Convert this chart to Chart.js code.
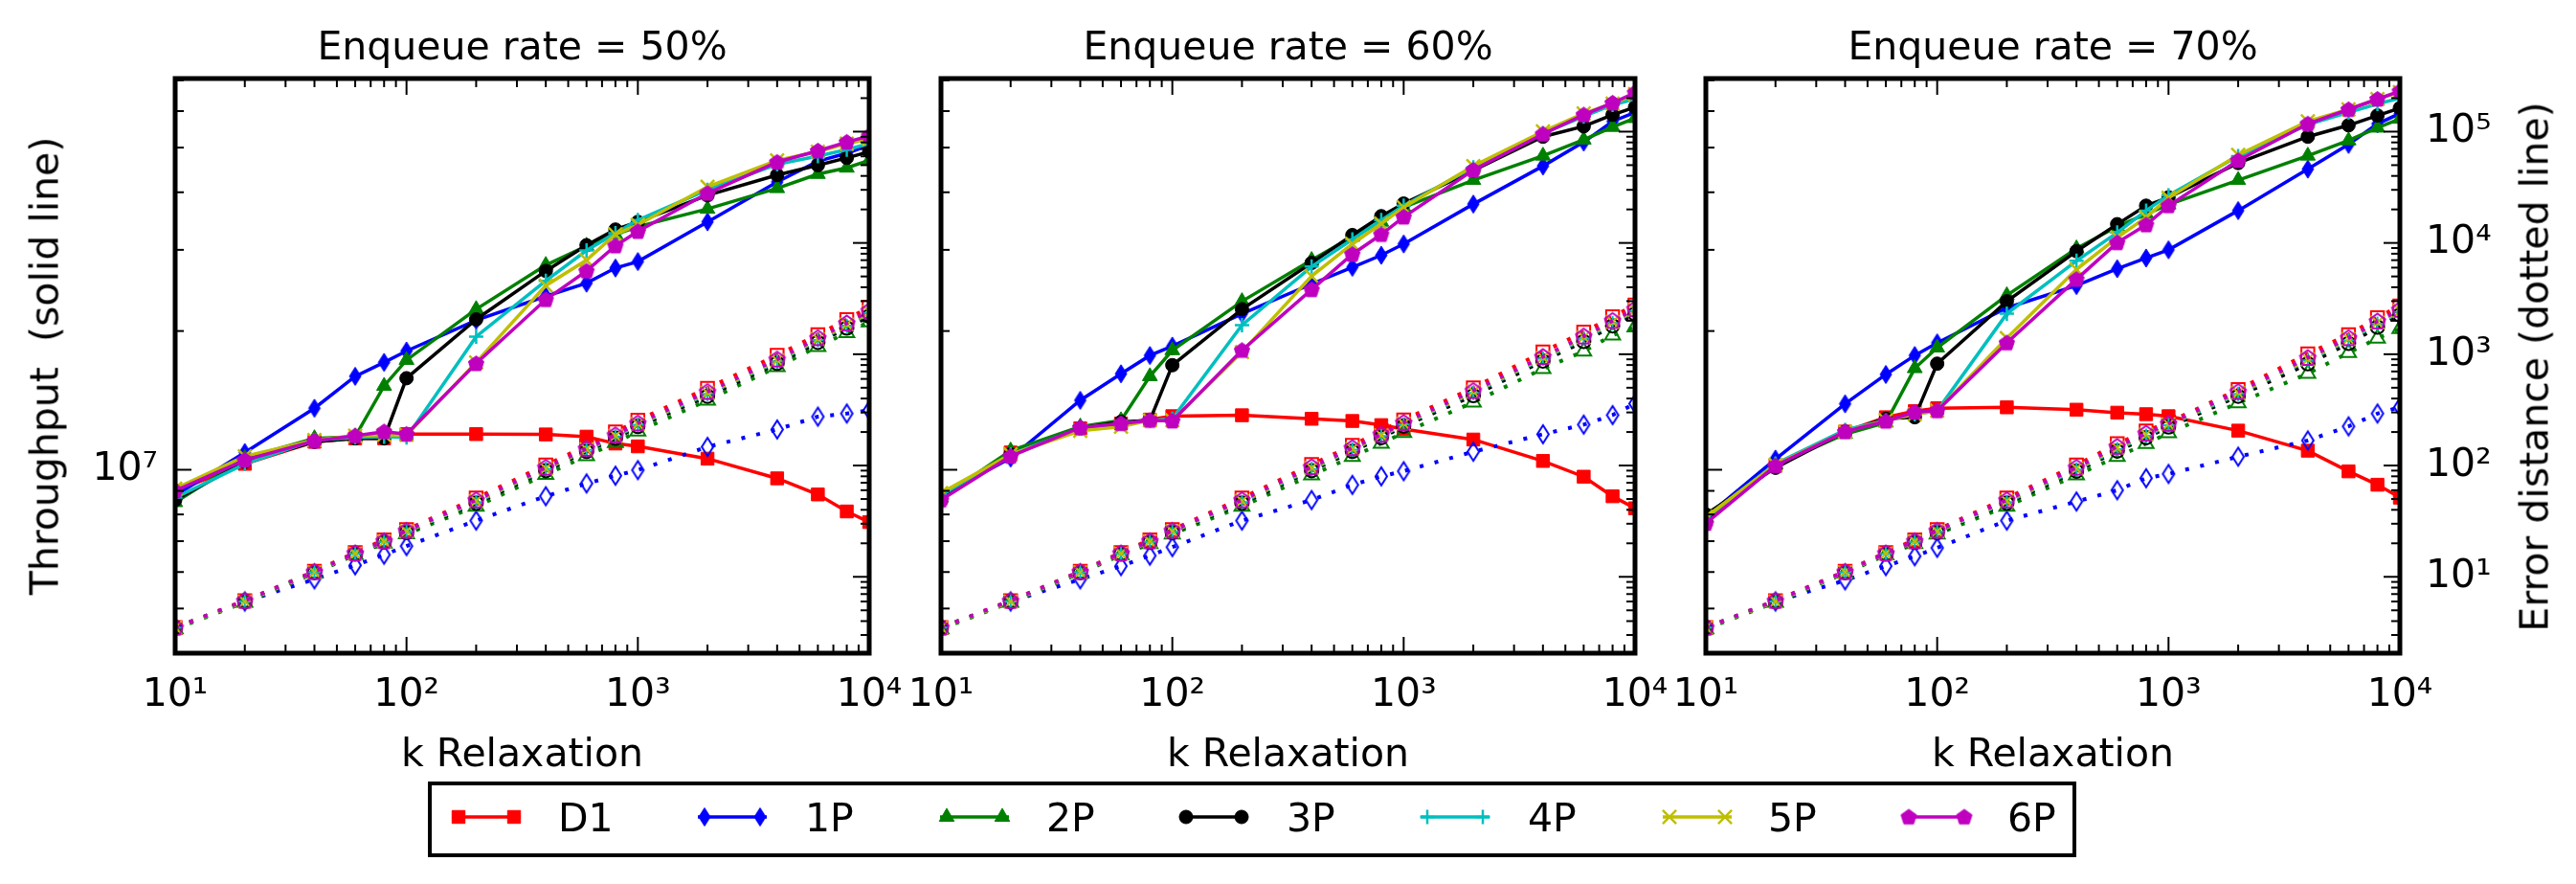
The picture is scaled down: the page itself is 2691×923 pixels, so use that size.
<!DOCTYPE html>
<html><head><meta charset="utf-8">
<script src="https://cdn.jsdelivr.net/npm/chart.js@4/dist/chart.umd.min.js"></script>
<style>
html,body{margin:0;padding:0;background:#fff;}
#wrap{position:relative;width:2691px;height:923px;overflow:hidden;background:#fff;font-family:"DejaVu Sans",sans-serif;color:#000;}
canvas.panel{position:absolute;left:0;top:0;}
.txt{position:absolute;font-size:41px;line-height:41px;white-space:pre;transform:translate(-50%,-50%);}
.rot{transform:translate(-50%,-50%) rotate(-90deg);}
.ltxt{position:absolute;font-size:41px;line-height:41px;white-space:pre;transform:translate(0,-50%);}
#legend{position:absolute;left:447px;top:816px;width:1722px;height:79px;box-sizing:border-box;border:4px solid #000;}
canvas.lg{position:absolute;}
</style></head>
<body><div id="wrap"><div id="legend"></div></div>
<script>
// ---------------- data ----------------
const kValues = [10,20,40,60,80,100,200,400,600,800,1000,2000,4000,6000,8000,10000];
const seriesNames = ['D1','1P','2P','3P','4P','5P','6P'];
const seriesColors = ['#ff0000','#0000ff','#008000','#000000','#00bfbf','#bfbf00','#bf00bf'];
const panelTitles = ['Enqueue rate = 50%','Enqueue rate = 60%','Enqueue rate = 70%'];
const xTickValues = [10,100,1000,10000];
const throughputTickValues = [1e7];
const errorTickValues = [10,100,1000,10000,100000];

// throughput, in millions (solid lines, left axis)
const tp50_D1 = [9.0,10.3,11.5,11.7,11.7,11.95,11.95,11.93,11.8,11.4,11.24,10.57,9.58,8.84,8.12,7.7];
const tp50_1P = [8.8,10.9,13.6,15.95,17.1,18.1,21.1,23.8,25.4,27.4,28.3,34.5,42.1,46.7,48.6,50.6];
const tp50_2P = [8.5,10.6,11.7,11.8,15.2,17.3,22.3,27.8,30.6,32.4,33.7,36.8,40.8,43.8,45.2,46.9];
const tp50_3P = [8.6,10.4,11.5,11.7,11.7,15.8,21.2,27.0,30.7,33.2,34.5,39.4,43.6,45.8,47.5,49.0];
const tp50_4P = [8.7,10.3,11.6,11.75,11.8,11.75,19.45,25.7,29.9,32.6,34.8,40.5,46.0,47.9,49.5,51.0];
const tp50_5P = [9.1,10.7,11.6,11.85,11.9,11.9,17.1,25.1,28.5,32.4,34.0,41.1,46.9,49.0,51.0,52.2];
const tp50_6P = [9.0,10.5,11.55,11.85,12.1,11.95,17.0,23.4,27.0,30.6,32.9,39.8,46.5,49.2,51.4,53.0];

const tp60_D1 = [8.7,10.9,12.3,12.6,12.85,13.07,13.13,12.9,12.76,12.5,12.26,11.63,10.45,9.66,8.76,8.25];
const tp60_1P = [8.8,10.6,14.15,16.15,17.7,18.55,21.8,25.3,27.5,29.2,30.9,37.7,45.6,51.4,57.0,59.6];
const tp60_2P = [8.7,11.0,12.4,12.8,15.95,18.16,23.2,28.5,32.0,34.5,37.1,42.5,48.0,52.0,55.4,57.9];
const tp60_3P = [8.7,10.8,12.3,12.7,12.8,16.86,22.3,28.1,32.3,35.5,37.8,44.6,52.8,55.6,58.9,61.2];
const tp60_4P = [8.8,10.8,12.3,12.6,12.8,12.9,20.6,27.6,31.6,34.8,37.4,45.3,53.7,58.4,61.9,63.7];
const tp60_5P = [8.9,10.8,12.15,12.4,12.8,12.8,18.0,26.3,30.9,34.2,37.1,45.6,54.2,59.3,62.3,65.3];
const tp60_6P = [8.6,10.7,12.35,12.6,12.8,12.76,18.16,24.6,29.35,32.4,35.35,44.7,53.5,58.9,62.5,65.8];

const tp70_D1 = [7.8,10.2,12.1,13.0,13.4,13.6,13.66,13.5,13.3,13.2,13.07,12.16,11.0,9.92,9.28,8.7];
const tp70_1P = [7.9,10.55,13.9,16.1,17.7,18.85,22.45,25.1,27.3,28.8,30.0,36.5,44.9,50.8,56.3,59.3];
const tp70_2P = [7.9,10.25,11.95,12.65,16.6,18.4,23.9,30.2,33.7,35.9,37.6,42.5,48.0,51.8,55.2,57.7];
const tp70_3P = [8.0,10.1,12.1,12.9,13.0,16.99,23.2,29.8,34.1,37.4,39.0,46.3,52.8,55.9,58.7,60.9];
const tp70_4P = [7.85,10.3,12.2,12.8,13.2,13.43,21.8,28.4,32.7,36.5,39.4,47.9,56.1,59.6,62.2,64.0];
const tp70_5P = [7.9,10.25,12.1,12.8,13.2,13.43,19.3,27.2,31.9,35.3,38.9,48.2,57.0,60.5,63.7,66.0];
const tp70_6P = [7.65,10.2,12.1,12.75,13.34,13.43,18.85,25.9,31.1,34.0,37.4,46.9,56.3,60.5,63.7,66.3];

// error distance (dotted lines, right axis)
const err50_D1 = [3.5,6.1,11.2,16.5,21.5,26.5,51,101,150,200,255,495,980,1500,2050,2650];
const err50_1P = [3.5,6.0,9.5,12.7,15.8,18.9,32,53,69,81,91,147,211,275,293,314];
const err50_2P = [3.4,5.9,10.8,15.8,20.0,24.3,43,83,122,160,203,385,770,1170,1560,1950];
const err50_3P = [3.5,6.0,10.9,16.0,20.5,25.0,46,90,134,176,224,420,830,1280,1720,2200];
const err50_4P = [3.5,6.0,11.0,16.1,20.6,25.4,47,93,138,182,232,440,860,1340,1800,2350];
const err50_5P = [3.5,6.0,11.0,16.2,20.8,25.6,48,94,140,185,236,450,880,1370,1850,2400];
const err50_6P = [3.5,6.1,11.1,16.3,21.0,26.0,49,96,142,188,240,460,900,1400,1900,2450];

const err60_D1 = [3.5,6.1,11.2,16.5,21.5,26.5,51,102,152,205,257,498,1050,1580,2170,2770];
const err60_1P = [3.5,6.0,9.5,12.5,15.5,18.5,32,49,67,80,89,133,191,233,284,360];
const err60_2P = [3.4,5.9,10.8,15.7,19.8,24.2,43,82,120,158,197,370,740,1064,1480,1750];
const err60_3P = [3.5,6.0,10.9,16.0,20.4,25.0,46,90,134,178,226,425,870,1300,1800,2300];
const err60_4P = [3.5,6.0,11.0,16.1,20.6,25.4,47,93,139,184,234,450,910,1380,1900,2450];
const err60_5P = [3.5,6.0,11.0,16.2,20.8,25.6,48,95,141,187,238,460,930,1420,1950,2500];
const err60_6P = [3.5,6.1,11.1,16.3,21.0,26.0,49,97,144,190,243,470,950,1450,2000,2550];

const err70_D1 = [3.5,6.1,11.2,16.5,21.5,26.5,51,101,157,204,245,481,1010,1500,2130,2720];
const err70_1P = [3.5,6.0,9.3,12.5,15.3,18.2,32,47.5,60,77,84,120,168,225,293,335];
const err70_2P = [3.4,5.9,10.8,15.7,19.8,24.2,43,82,120,157,196,365,670,1030,1390,1690];
const err70_3P = [3.5,6.0,10.9,16.0,20.4,25.0,46,89,135,178,222,420,820,1250,1750,2250];
const err70_4P = [3.5,6.0,11.0,16.1,20.6,25.4,47,92,140,185,230,440,880,1330,1880,2400];
const err70_5P = [3.5,6.0,11.0,16.2,20.8,25.6,48,94,144,190,235,450,900,1370,1930,2450];
const err70_6P = [3.5,6.1,11.1,16.3,21.0,26.0,49,96,148,194,238,460,930,1400,1980,2520];

const throughputByPanel = [
  [tp50_D1,tp50_1P,tp50_2P,tp50_3P,tp50_4P,tp50_5P,tp50_6P],
  [tp60_D1,tp60_1P,tp60_2P,tp60_3P,tp60_4P,tp60_5P,tp60_6P],
  [tp70_D1,tp70_1P,tp70_2P,tp70_3P,tp70_4P,tp70_5P,tp70_6P]];
const errorByPanel = [
  [err50_D1,err50_1P,err50_2P,err50_3P,err50_4P,err50_5P,err50_6P],
  [err60_D1,err60_1P,err60_2P,err60_3P,err60_4P,err60_5P,err60_6P],
  [err70_D1,err70_1P,err70_2P,err70_3P,err70_4P,err70_5P,err70_6P]];

// ---------------- layout ----------------
const W = 2691, H = 923;
const panelLefts = [183, 983, 1782];
const panelWidth = 725, panelTop = 82, panelBottom = 682;
const FONT = '"DejaVu Sans", sans-serif';

// ---------------- markers ----------------
function makeCanvas(w,h,draw){const c=document.createElement('canvas');c.width=w;c.height=h;draw(c.getContext('2d'));return c;}
function thinDiamond(color, filled){
  const w=12,h=19,lw=2,cw=w+2*lw+2,ch=h+2*lw+2;
  return makeCanvas(cw,ch,g=>{const cx=cw/2,cy=ch/2;g.beginPath();g.moveTo(cx,cy-h/2);g.lineTo(cx+w/2,cy);g.lineTo(cx,cy+h/2);g.lineTo(cx-w/2,cy);g.closePath();
    if(filled){g.fillStyle=color;g.fill();g.lineWidth=1;}else{g.lineWidth=lw;} g.strokeStyle=color;g.stroke();});
}
function pentagon(color, filled){
  const r=8.5,lw=2,s=Math.ceil(2*r+2*lw+2);
  return makeCanvas(s,s,g=>{const c=s/2;g.beginPath();for(let i=0;i<5;i++){const a=-Math.PI/2+i*2*Math.PI/5;const px=c+r*Math.cos(a),py=c+0.5+r*Math.sin(a);i?g.lineTo(px,py):g.moveTo(px,py);}g.closePath();
    if(filled){g.fillStyle=color;g.fill();g.lineWidth=1;}else{g.lineWidth=lw;} g.strokeStyle=color;g.stroke();});
}
const filledStyles = ['rect', thinDiamond(seriesColors[1],true), 'triangle', 'circle', 'cross', 'crossRot', pentagon(seriesColors[6],true)];
const hollowStyles = ['rect', thinDiamond(seriesColors[1],false), 'triangle', 'circle', 'cross', 'crossRot', pentagon(seriesColors[6],false)];
const markerRadius = [9.5, 8, 9, 7, 7.5, 10, 8];

const sup = {1:'\u00B9',2:'\u00B2',3:'\u00B3',4:'\u2074',5:'\u2075',6:'\u2076',7:'\u2077'};
function powLabel(v){const e=Math.round(Math.log10(v));return '10'+sup[e];}

// inward ticks + frame
const frameTicks = {
  id:'frameTicks',
  afterDraw(chart){
    const {ctx, chartArea:a, scales} = chart;
    ctx.save(); ctx.strokeStyle='#000'; ctx.lineWidth=2; ctx.lineCap='butt';
    const seg=(x1,y1,x2,y2)=>{ctx.beginPath();ctx.moveTo(x1,y1);ctx.lineTo(x2,y2);ctx.stroke();};
    const each=(sc,d0,d1,fn)=>{for(let d=d0;d<=d1;d++)for(let m=1;m<=9;m++){const v=m*Math.pow(10,d);if(v<sc.min*0.999||v>sc.max*1.001)continue;fn(sc.getPixelForValue(v),m===1?17:9);}};
    each(scales.x,1,4,(px,L)=>{seg(px,a.bottom,px,a.bottom-L);seg(px,a.top,px,a.top+L);});
    each(scales.yT,6,7,(py,L)=>{seg(a.left,py,a.left+L,py);});
    each(scales.yE,0,5,(py,L)=>{seg(a.right,py,a.right-L,py);});
    ctx.lineWidth=5; ctx.strokeRect(a.left,a.top,a.right-a.left,a.bottom-a.top);
    ctx.restore();
  }
};

const wrap = document.getElementById('wrap');
function addText(txt, cx, cy, cls){const d=document.createElement('div');d.className=cls;d.textContent=txt;d.style.left=cx+'px';d.style.top=cy+'px';wrap.appendChild(d);return d;}

for (let p=0;p<3;p++){
  const PL = panelLefts[p], PR = PL+panelWidth;
  const cv = document.createElement('canvas'); cv.className='panel'; cv.width=W; cv.height=H; wrap.appendChild(cv);
  const datasets = [];
  for (let s=0;s<7;s++){
    const col = seriesColors[s];
    datasets.push({
      label: seriesNames[s]+' throughput', yAxisID:'yT',
      data: kValues.map((k,j)=>({x:k, y:throughputByPanel[p][s][j]*1e6})),
      borderColor: col, backgroundColor: col, borderWidth: 3.5,
      pointStyle: filledStyles[s], pointRadius: markerRadius[s],
      pointBackgroundColor: col, pointBorderColor: col, pointBorderWidth: (s===4||s===5)?2.5:1,
      tension: 0, clip: 0, order: 30-s
    });
  }
  for (let s=0;s<7;s++){
    const col = seriesColors[s];
    datasets.push({
      label: seriesNames[s]+' error', yAxisID:'yE',
      data: kValues.map((k,j)=>({x:k, y:errorByPanel[p][s][j]})),
      borderColor: col, backgroundColor: 'rgba(0,0,0,0)', borderWidth: 4, borderDash:[4,12], borderCapStyle:'butt',
      pointStyle: hollowStyles[s], pointRadius: markerRadius[s],
      pointBackgroundColor: 'rgba(0,0,0,0)', pointBorderColor: col, pointBorderWidth: 2,
      tension: 0, clip: 0, order: 20-s
    });
  }
  const tickFont = {family: FONT, size: 41};
  new Chart(cv, {
    type:'line',
    data:{datasets},
    options:{
      responsive:false, animation:false, events:[], devicePixelRatio:1,
      layout:{padding:{left:PL-100, right:W-PR-100, top:panelTop, bottom:H-panelBottom-60}},
      plugins:{legend:{display:false}, tooltip:{enabled:false}, title:{display:false}},
      scales:{
        x:{type:'logarithmic', position:'bottom', min:10, max:10000,
          grid:{display:false, drawTicks:false}, border:{display:false},
          afterBuildTicks:s=>{s.ticks = xTickValues.map(v=>({value:v, major:true}));},
          afterFit:s=>{s.height=60;},
          ticks:{autoSkip:false, maxRotation:0, minRotation:0, padding:20, color:'#000', font:tickFont, callback:v=>powLabel(v)}},
        yT:{type:'logarithmic', position:'left', min:4.0e6, max:7.06e7,
          grid:{display:false, drawTicks:false}, border:{display:false},
          afterBuildTicks:s=>{s.ticks = throughputTickValues.map(v=>({value:v, major:true}));},
          afterFit:s=>{s.width=100;},
          ticks:{display:p===0, autoSkip:false, padding:18, color:'#000', font:tickFont, callback:v=>powLabel(v)}},
        yE:{type:'logarithmic', position:'right', min:2.06, max:3.0e5,
          grid:{display:false, drawTicks:false}, border:{display:false},
          afterBuildTicks:s=>{s.ticks = errorTickValues.map(v=>({value:v, major:true}));},
          afterFit:s=>{s.width=100;},
          ticks:{display:p===2, autoSkip:false, padding:27, color:'#000', font:tickFont, callback:v=>powLabel(v)}}
      }
    },
    plugins:[frameTicks]
  });
  addText(panelTitles[p], PL+panelWidth/2, 48, 'txt');
  addText('k Relaxation', PL+panelWidth/2, 786, 'txt');
}
addText('Throughput  (solid line)', 47, 382, 'txt rot');
addText('Error distance (dotted line)', 2648, 383, 'txt rot');

// ---------------- legend ----------------
const legendLineX = [472, 729, 982, 1232, 1484, 1737, 1987];
const legendTextX = [583, 841, 1093, 1344, 1596, 1847, 2097];
const legendY = 853;
function drawMarker(g, style, x, y, color, r){
  g.save(); g.fillStyle=color; g.strokeStyle=color; g.lineWidth=1; g.beginPath();
  if (typeof style !== 'string'){ g.drawImage(style, x-style.width/2, y-style.height/2); g.restore(); return; }
  if (style==='rect'){const s=r*Math.SQRT1_2; g.rect(x-s,y-s,2*s,2*s); g.fill(); g.stroke();}
  else if (style==='circle'){g.arc(x,y,r,0,2*Math.PI); g.fill(); g.stroke();}
  else if (style==='triangle'){for(let i=0;i<3;i++){const a=-Math.PI/2+i*2*Math.PI/3;const px=x+r*Math.cos(a),py=y+r*Math.sin(a);i?g.lineTo(px,py):g.moveTo(px,py);} g.closePath(); g.fill(); g.stroke();}
  else if (style==='cross'){g.lineWidth=2.5; g.moveTo(x-r,y); g.lineTo(x+r,y); g.moveTo(x,y-r); g.lineTo(x,y+r); g.stroke();}
  else if (style==='crossRot'){g.lineWidth=2.5; const o=r*Math.SQRT1_2; g.moveTo(x-o,y-o); g.lineTo(x+o,y+o); g.moveTo(x+o,y-o); g.lineTo(x-o,y+o); g.stroke();}
  g.restore();
}
for (let s=0;s<7;s++){
  const c=document.createElement('canvas'); c.className='lg'; c.width=92; c.height=40;
  c.style.left=(legendLineX[s]-10)+'px'; c.style.top=(legendY-20)+'px'; wrap.appendChild(c);
  const g=c.getContext('2d'); const col=seriesColors[s];
  g.strokeStyle=col; g.lineWidth=3.5; g.beginPath(); g.moveTo(10,20); g.lineTo(82,20); g.stroke();
  drawMarker(g, filledStyles[s], 17, 20, col, markerRadius[s]);
  drawMarker(g, filledStyles[s], 75, 20, col, markerRadius[s]);
  addText(seriesNames[s], legendTextX[s], legendY+1, 'ltxt');
}
</script></body></html>
